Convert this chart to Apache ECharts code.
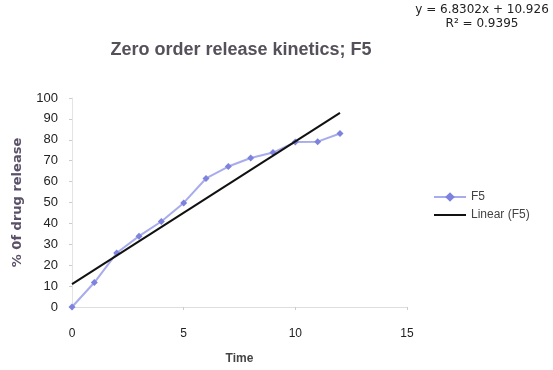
<!DOCTYPE html>
<html>
<head>
<meta charset="utf-8">
<script src="https://cdn.jsdelivr.net/npm/echarts@6/dist/echarts.min.js"></script>
<style>
  html, body { margin: 0; padding: 0; background: #fff; }
  #chart { width: 553px; height: 370px; }
</style>
</head>
<body>
<div id="chart"></div>
<script>
// time points and % drug release
var timePoints = [0, 1, 2, 3, 4, 5, 6, 7, 8, 9, 10, 11, 12];
var releaseF5 = [0, 11.7, 25.8, 33.9, 40.9, 49.8, 61.5, 67.2, 71.3, 73.9, 78.9, 79.1, 83.0];
// trend line end points, y = 6.8302x + 10.926
var trendX = [0, 12];
var trendY = [10.926, 92.888];
var xTicks = [0, 5, 10, 15];
var yTicks = [0, 10, 20, 30, 40, 50, 60, 70, 80, 90, 100];

var chart = echarts.init(document.getElementById('chart'));

var font = 'Liberation Sans, Arial, sans-serif';

var option = {
  backgroundColor: '#fff',
  animation: false,
  title: [
    {
      text: 'Zero order release kinetics; F5',
      left: 236, top: 36, textAlign: 'center',
      textStyle: { fontFamily: font, fontSize: 18, fontWeight: 'bold', color: '#55505a' }
    },
    {
      text: 'y = 6.8302x + 10.926\nR² = 0.9395',
      left: 477, top: -2, textAlign: 'center',
      textStyle: { fontFamily: 'DejaVu Sans, sans-serif', fontSize: 12, fontWeight: 'normal', color: '#222', lineHeight: 14 }
    }
  ],
  grid: { left: 72, right: 146, top: 98, bottom: 61 },
  legend: {
    orient: 'vertical',
    left: 428, top: 186,
    itemGap: 6,
    itemWidth: 32, itemHeight: 12,
    textStyle: { fontFamily: font, fontSize: 12, color: '#444' },
    data: [
      { name: 'F5' },
      { name: 'Linear (F5)', itemStyle: { opacity: 0 } }
    ]
  },
  xAxis: {
    type: 'value',
    min: xTicks[0], max: xTicks[xTicks.length - 1], interval: 5,
    name: 'Time', nameLocation: 'middle', nameGap: 46,
    nameTextStyle: { fontFamily: font, fontSize: 12, fontWeight: 'bold', color: '#444' },
    axisLine: { show: true, lineStyle: { color: '#ddd' } },
    axisTick: { show: true, lineStyle: { color: '#ccc' }, length: 3 },
    axisLabel: { fontFamily: font, fontSize: 12, color: '#222', margin: 21 },
    splitLine: { show: false }
  },
  yAxis: {
    type: 'value',
    min: yTicks[0], max: yTicks[yTicks.length - 1], interval: 10,
    name: '% 0f drug release', nameLocation: 'middle', nameGap: 48,
    nameTextStyle: { fontFamily: 'DejaVu Sans, sans-serif', fontSize: 13, fontWeight: 'bold', color: '#5a5068' },
    axisLine: { show: true, lineStyle: { color: '#e4e4e4' } },
    axisTick: { show: true, lineStyle: { color: '#ccc' }, length: 3 },
    axisLabel: { fontFamily: font, fontSize: 13, color: '#222', margin: 14 },
    splitLine: { show: false }
  },
  series: [
    {
      name: 'F5',
      type: 'line',
      data: timePoints.map(function (t, i) { return [t, releaseF5[i]]; }),
      symbol: 'diamond', symbolSize: 7,
      lineStyle: { color: '#a8acec', width: 2 },
      itemStyle: { color: '#7d82de' },
      z: 2
    },
    {
      name: 'Linear (F5)',
      type: 'line',
      data: trendX.map(function (t, i) { return [t, trendY[i]]; }),
      symbol: 'none',
      lineStyle: { color: '#111', width: 2 },
      itemStyle: { color: '#111' },
      z: 3
    }
  ]
};

chart.setOption(option);
</script>
</body>
</html>
